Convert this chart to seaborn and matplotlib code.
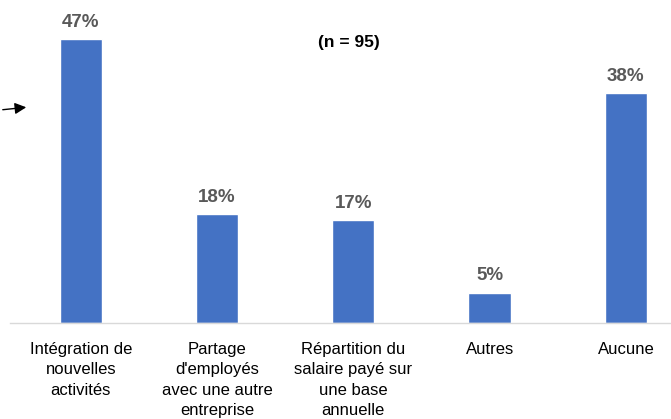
import seaborn as sns
import pandas as pd
import matplotlib.pyplot as plt

categories = [
    "Intégration de\nnouvelles\nactivités",
    "Partage\nd'employés\navec une autre\nentreprise",
    "Répartition du\nsalaire payé sur\nune base\nannuelle",
    "Autres",
    "Aucune",
]
values = [47, 18, 17, 5, 38]
value_labels = ["47%", "18%", "17%", "5%", "38%"]
note = "(n = 95)"

sns.set_style("white")
plt.rcParams['font.family'] = ['Liberation Sans', 'DejaVu Sans']

df = pd.DataFrame({"cat": categories, "val": values})

fig = plt.figure(figsize=(6.71, 4.19), dpi=100)
# axes deliberately runs past the right edge, like the cropped original
ax = fig.add_axes([10 / 671, (419 - 323) / 419, 684 / 671, 302 / 419])
sns.barplot(data=df, x="cat", y="val", color="#4472C4", saturation=1,
            width=0.31, ax=ax)
ax.set_xlim(-0.52, 4.5)
ax.set_ylim(0, 50)
ax.bar_label(ax.containers[0], labels=value_labels, padding=6,
             fontsize=13.5, fontweight="bold", color="#595959")

for s in ["top", "right", "left"]:
    ax.spines[s].set_visible(False)
ax.spines["bottom"].set_color("#D9D9D9")
ax.spines["bottom"].set_linewidth(1)
ax.set_yticks([])
ax.set_xlabel("")
ax.set_ylabel("")
ax.tick_params(axis="x", length=0, pad=14, labelsize=12, labelcolor="#000000")
for lab in ax.get_xticklabels():
    lab.set_linespacing(1.42)

fig.text(349 / 671, 1 - 42 / 419, note, ha="center", va="center",
         fontsize=12.5, fontweight="bold", color="#000000")

# little arrow pointing at the first bar
fig.add_artist(plt.Annotation("", xy=(29 / 671, 1 - 107 / 419),
                              xytext=(0, 1 - 110 / 419),
                              xycoords="figure fraction",
                              arrowprops=dict(arrowstyle="-|>", color="black",
                                              lw=1, mutation_scale=17)))

fig.savefig("out.png", dpi=100)
